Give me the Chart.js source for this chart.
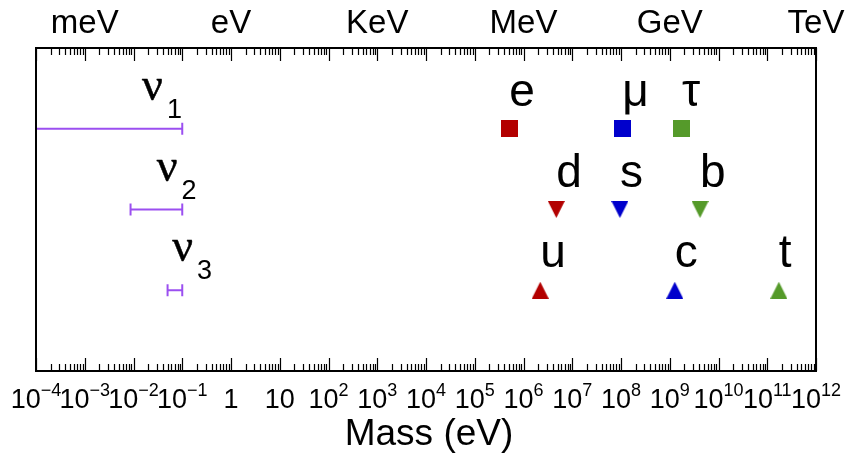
<!DOCTYPE html>
<html><head><meta charset="utf-8">
<script src="https://cdn.jsdelivr.net/npm/chart.js@4/dist/chart.umd.min.js"></script>
<style>html,body{margin:0;padding:0;background:#fff}canvas{display:block}</style>
</head><body>
<canvas id="c" width="850" height="459"></canvas>
<script>
// ---------------- data ----------------
const xMin = 1e-4, xMax = 1e12;
const decadeExponents = [-4,-3,-2,-1,0,1,2,3,4,5,6,7,8,9,10,11,12];
const unitTickValues = [1e-3, 1, 1e3, 1e6, 1e9, 1e12];
const unitTickLabels = ['meV', 'eV', 'KeV', 'MeV', 'GeV', 'TeV'];
const rowValues = [3, 2, 1];               // charged leptons / down-type / up-type
const leptonNames = ['e', 'μ', 'τ'];
const leptonMasses = [0.511e6, 105.7e6, 1777e6];
const downNames = ['d', 's', 'b'];
const downMasses = [4.7e6, 95e6, 4.18e9];
const upNames = ['u', 'c', 't'];
const upMasses = [2.2e6, 1.27e9, 173e9];
const nuSubscripts = ['1', '2', '3'];
const nuLow = [1e-5, 0.0087, 0.05];
const nuHigh = [0.1, 0.1, 0.1];
const nuLabelAt = [0.015, 0.03, 0.062];

// ---------------- style ----------------
const GEN_COLORS = ['#b30000', '#0000cc', '#559a2a'];
const PURPLE = '#9b4ff0';
const SANS = '"Liberation Sans", Arial, Helvetica, sans-serif';
const SERIF = '"Liberation Serif", "Times New Roman", serif';

function marker(shape, color) {
  const s = 17, c = document.createElement('canvas');
  c.width = s; c.height = s;
  const g = c.getContext('2d');
  g.fillStyle = color; g.beginPath();
  if (shape === 'square') g.rect(0, 0, s, s);
  else if (shape === 'up') { g.moveTo(s/2, 0); g.lineTo(s, s); g.lineTo(0, s); }
  else { g.moveTo(0, 0); g.lineTo(s, 0); g.lineTo(s/2, s); }
  g.closePath(); g.fill();
  return c;
}

const fermionRows = [
  {names: leptonNames, masses: leptonMasses, row: rowValues[0], shape: 'square'},
  {names: downNames,   masses: downMasses,   row: rowValues[1], shape: 'down'},
  {names: upNames,     masses: upMasses,     row: rowValues[2], shape: 'up'}
];

const datasets = [];
fermionRows.forEach(fr => {
  datasets.push({
    label: fr.names.join(','),
    data: fr.masses.map(m => ({x: m, y: fr.row})),
    pointStyle: GEN_COLORS.map(col => marker(fr.shape, col)),
    pointRadius: 9, showLine: false
  });
});
nuSubscripts.forEach((s, i) => {
  datasets.push({
    label: 'ν' + s,
    data: [{x: nuLow[i], y: rowValues[i]}, {x: nuHigh[i], y: rowValues[i]}],
    showLine: true, borderColor: PURPLE, borderWidth: 2,
    pointStyle: 'line', rotation: 90, pointRadius: 6,
    pointBorderColor: PURPLE, pointBorderWidth: 2, pointBackgroundColor: PURPLE
  });
});

const framePlugin = {
  id: 'frame',
  afterDatasetsDraw(chart) {
    const {ctx, chartArea: a, scales: {x, y}} = chart;
    ctx.save();
    // frame
    ctx.strokeStyle = '#000'; ctx.lineWidth = 2;
    ctx.strokeRect(a.left, a.top, a.right - a.left, a.bottom - a.top);
    // ticks (inward, bottom and top)
    ctx.lineWidth = 1.2;
    ctx.beginPath();
    decadeExponents.forEach(e => {
      const px = Math.round(x.getPixelForValue(Math.pow(10, e))) + 0.5;
      ctx.moveTo(px, a.bottom); ctx.lineTo(px, a.bottom - 13);
      ctx.moveTo(px, a.top); ctx.lineTo(px, a.top + 13);
      if (e < 12) for (let k = 2; k <= 9; k++) {
        const mp = Math.round(x.getPixelForValue(k * Math.pow(10, e))) + 0.5;
        ctx.moveTo(mp, a.bottom); ctx.lineTo(mp, a.bottom - 7);
        ctx.moveTo(mp, a.top); ctx.lineTo(mp, a.top + 7);
      }
    });
    ctx.stroke();
    // bottom tick labels
    ctx.fillStyle = '#000'; ctx.textBaseline = 'alphabetic'; ctx.textAlign = 'left';
    const base = a.bottom + 37;
    decadeExponents.forEach(e => {
      const px = x.getPixelForValue(Math.pow(10, e));
      let main, sup = '';
      if (e === 0) main = '1'; else if (e === 1) main = '10';
      else { main = '10'; sup = String(e).replace('-', '\u2212'); }
      ctx.font = '27px ' + SANS; const wm = ctx.measureText(main).width;
      ctx.font = '18px ' + SANS; const ws = sup ? ctx.measureText(sup).width : 0;
      const x0 = px - (wm + ws) / 2;
      ctx.font = '27px ' + SANS; ctx.fillText(main, x0, base);
      if (sup) { ctx.font = '18px ' + SANS; ctx.fillText(sup, x0 + wm, base - 12.5); }
    });
    // top unit labels
    ctx.textAlign = 'center'; ctx.font = '33px ' + SANS;
    unitTickValues.forEach((v, i) => ctx.fillText(unitTickLabels[i], x.getPixelForValue(v), 33));
    // axis title
    ctx.font = '37px ' + SANS;
    ctx.fillText('Mass (eV)', (a.left + a.right) / 2 + 3, 445);
    // particle labels
    ctx.textAlign = 'left'; ctx.font = '46px ' + SANS;
    fermionRows.forEach(fr => fr.names.forEach((n, i) => {
      ctx.fillText(n, x.getPixelForValue(fr.masses[i]), y.getPixelForValue(fr.row) - 23);
    }));
    ctx.strokeStyle = '#000'; ctx.lineWidth = 0.5; ctx.lineJoin = 'round';
    nuSubscripts.forEach((s, i) => {
      const lx = x.getPixelForValue(nuLabelAt[i]), ry = y.getPixelForValue(rowValues[i]);
      ctx.font = '46px ' + SERIF;
      ctx.fillText('ν', lx, ry - 29);
      ctx.strokeText('ν', lx, ry - 29);
      const w = ctx.measureText('ν').width;
      ctx.font = '27px ' + SANS; ctx.fillText(s, lx + w + 4, ry - 11);
    });
    ctx.restore();
  }
};

new Chart(document.getElementById('c'), {
  type: 'scatter',
  data: {datasets},
  options: {
    responsive: false, animation: false, devicePixelRatio: 1,
    layout: {padding: {left: 36, right: 34, top: 48, bottom: 88}},
    plugins: {legend: {display: false}, tooltip: {enabled: false}},
    scales: {
      x: {type: 'logarithmic', min: xMin, max: xMax, display: false},
      y: {type: 'linear', min: 0, max: 4, display: false}
    }
  },
  plugins: [framePlugin]
});
</script>
</body></html>
